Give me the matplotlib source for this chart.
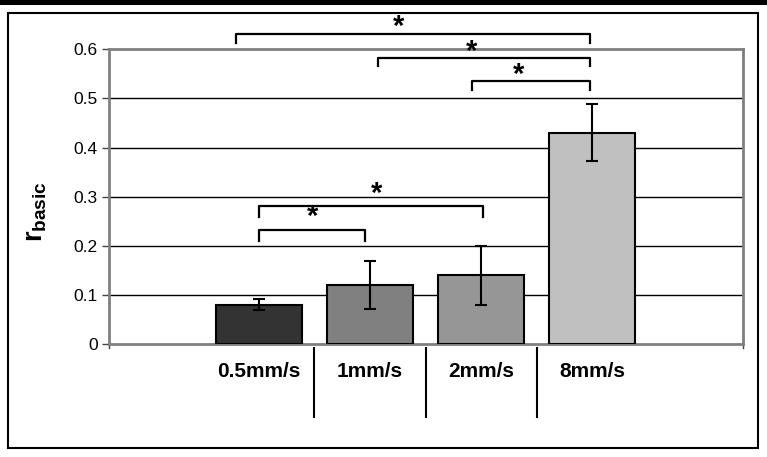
import numpy as np
import matplotlib
matplotlib.use("Agg")
import matplotlib.pyplot as plt
from matplotlib.patches import Rectangle

plt.rcParams['font.family'] = ['Liberation Sans', 'DejaVu Sans']
plt.rcParams['mathtext.fontset'] = 'custom'
plt.rcParams['mathtext.rm'] = 'Liberation Sans'
plt.rcParams['mathtext.bf'] = 'Liberation Sans:bold'

# data
labels = ['0.5mm/s', '1mm/s', '2mm/s', '8mm/s']
means = [0.08, 0.12, 0.14, 0.43]
errs = [0.011, 0.048, 0.06, 0.058]
bar_colors = ['#333333', '#808080', '#969696', '#c0c0c0']
yticks = [0, 0.1, 0.2, 0.3, 0.4, 0.5, 0.6]

# significance brackets: left x, right x, height, drop
br_left = [0.0, 0.0, -0.21, 1.07, 1.92]
br_right = [0.955, 2.02, 2.98, 2.98, 2.98]
br_y = [0.232, 0.281, 0.6305, 0.583, 0.535]
br_drop = [0.022, 0.023, 0.017, 0.018, 0.017]
star_x = [0.486, 1.06, 1.26, 1.916, 2.342]
star_y = [0.259, 0.306, 0.645, 0.594, 0.547]

fig = plt.figure(figsize=(7.67, 4.57), dpi=100)
ax = fig.add_axes([109/767, 1-344/457, (743-109)/767, (344-49.3)/457])

x = np.arange(len(labels))
ax.bar(x, means, width=0.775, color=bar_colors, edgecolor='black', linewidth=1.5, zorder=3)
ax.errorbar(x, means, yerr=errs, fmt='none', ecolor='black', elinewidth=1.5,
            capsize=4.5, capthick=1.5, zorder=4)

ax.set_xlim(-1.351, 4.36)
ax.set_ylim(0, 0.6)
ax.set_yticks(yticks)
ax.set_yticklabels(['0', '0.1', '0.2', '0.3', '0.4', '0.5', '0.6'], fontsize=12.5)
for t in yticks[1:-1]:
    ax.axhline(t, color='black', linewidth=1, zorder=1)

for s in ax.spines.values():
    s.set_color('#808080')
    s.set_linewidth(2)
ax.tick_params(axis='y', length=5, width=1, color='#444444', pad=3)

ax.set_xticks(x)
ax.set_xticklabels(labels, fontsize=15, fontweight='bold')
ax.tick_params(axis='x', length=0, pad=13)

# separators below the axis
for sx in x[:-1] + 0.5:
    ax.plot([sx, sx], [-0.008, -0.149], color='black', linewidth=1.5, clip_on=False)
for ex in ax.get_xlim():
    ax.plot([ex, ex], [0, -0.009], color='#444444', linewidth=1, clip_on=False)

# brackets and stars
for x0, x1, yb, d in zip(br_left, br_right, br_y, br_drop):
    ax.plot([x0, x0, x1, x1], [yb - d, yb, yb, yb - d], color='black',
            linewidth=1.6, clip_on=False, zorder=5)
for sx, sy in zip(star_x, star_y):
    ax.text(sx, sy, '*', fontsize=21, fontweight='bold', ha='center', va='center',
            zorder=6, clip_on=False)

fig.text(36/767, 1-212/457, r'$\mathbf{r}_{\mathbf{basic}}$', fontsize=19.5,
         rotation=90, ha='center', va='center')

# outer frame and top band
fig.patches.append(Rectangle((8.3/767, 1-448.3/457), (757.5-8.3)/767, (448.3-13.3)/457,
                             transform=fig.transFigure, fill=False, edgecolor='black',
                             linewidth=1.5))
fig.patches.append(Rectangle((0, 1-5/457), 1, 5/457, transform=fig.transFigure,
                             facecolor='black', edgecolor='none'))

fig.savefig('out.png', dpi=100)
